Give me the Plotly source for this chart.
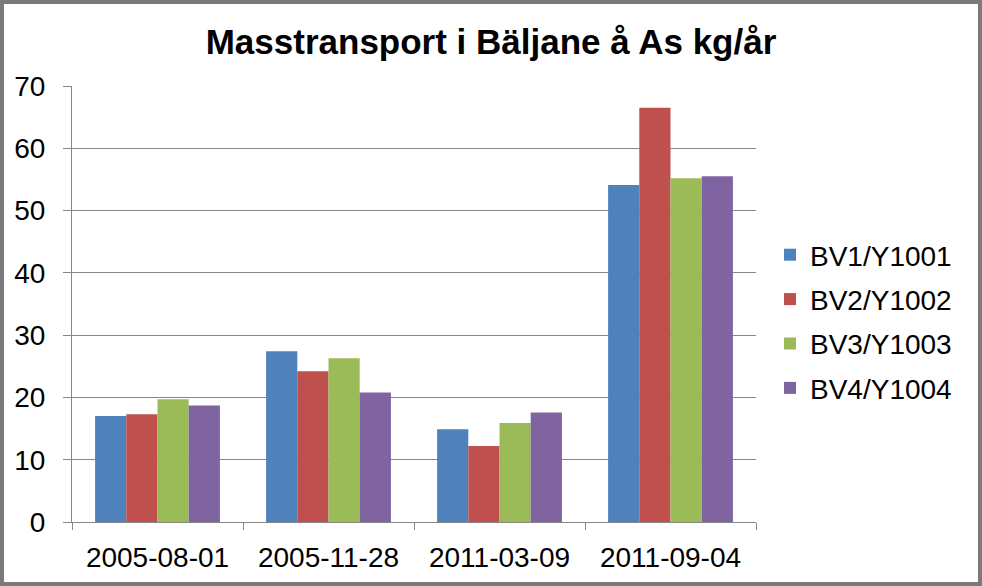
import plotly.graph_objects as go

categories = ["2005-08-01", "2005-11-28", "2011-03-09", "2011-09-04"]
series_names = ["BV1/Y1001", "BV2/Y1002", "BV3/Y1003", "BV4/Y1004"]
bv1 = [17.0, 27.4, 14.9, 54.1]
bv2 = [17.3, 24.2, 12.2, 66.5]
bv3 = [19.7, 26.3, 15.9, 55.2]
bv4 = [18.7, 20.8, 17.6, 55.5]
colors = ["#4F81BD", "#C0504D", "#9BBB59", "#8064A2"]
y_ticks = [0, 10, 20, 30, 40, 50, 60, 70]

W, H = 982, 586
L, R, T, B = 72, 226, 86, 64
pw, ph = W - L - R, H - T - B

fig = go.Figure()
for name, vals, col in zip(series_names, [bv1, bv2, bv3, bv4], colors):
    fig.add_trace(go.Bar(x=categories, y=vals, name=name, marker_color=col,
                         marker_line_width=0, legendgroup=name))

font = "Liberation Sans, Arial, sans-serif"
fig.update_layout(
    width=W, height=H,
    margin=dict(l=L, r=R, t=T, b=B),
    paper_bgcolor="white", plot_bgcolor="white",
    font=dict(family=font, size=28, color="black"),
    title=dict(text="<b>Masstransport i Bäljane å As kg/år</b>",
               x=0.5, xref="container", xanchor="center", y=1 - 42 / H, yanchor="middle",
               font=dict(family=font, size=35, color="black")),
    bargap=0.27, bargroupgap=0,
    legend=dict(x=(770 - L) / pw, y=(522 - 230) / ph, xanchor="left", yanchor="top",
                font=dict(size=28), tracegroupgap=5, bgcolor="rgba(0,0,0,0)"),
    showlegend=True,
)
fig.update_xaxes(type="category", showline=True, linecolor="#868686", linewidth=1,
                 ticks="outside", tickson="boundaries", ticklen=7, tickcolor="#868686",
                 showgrid=False, ticklabelstandoff=10, tickfont=dict(size=28))
fig.update_yaxes(range=[0, 70], tickvals=y_ticks, showline=True, linecolor="#868686",
                 linewidth=1, ticks="outside", ticklen=8, tickcolor="#868686",
                 showgrid=True, gridcolor="#868686", gridwidth=1, zeroline=False,
                 ticklabelstandoff=12, tickfont=dict(size=28))

# outer frame
fig.add_shape(type="rect", xref="paper", yref="paper",
              x0=-(L - 2) / pw, x1=1 + (R - 2) / pw,
              y0=-(B - 2) / ph, y1=1 + (T - 2) / ph,
              line=dict(color="#7a7a7a", width=4), fillcolor="rgba(0,0,0,0)", layer="above")

fig.write_html("out.html", config={"displayModeBar": False},
               post_script="document.body.style.margin='0';document.body.style.overflow='hidden';")
